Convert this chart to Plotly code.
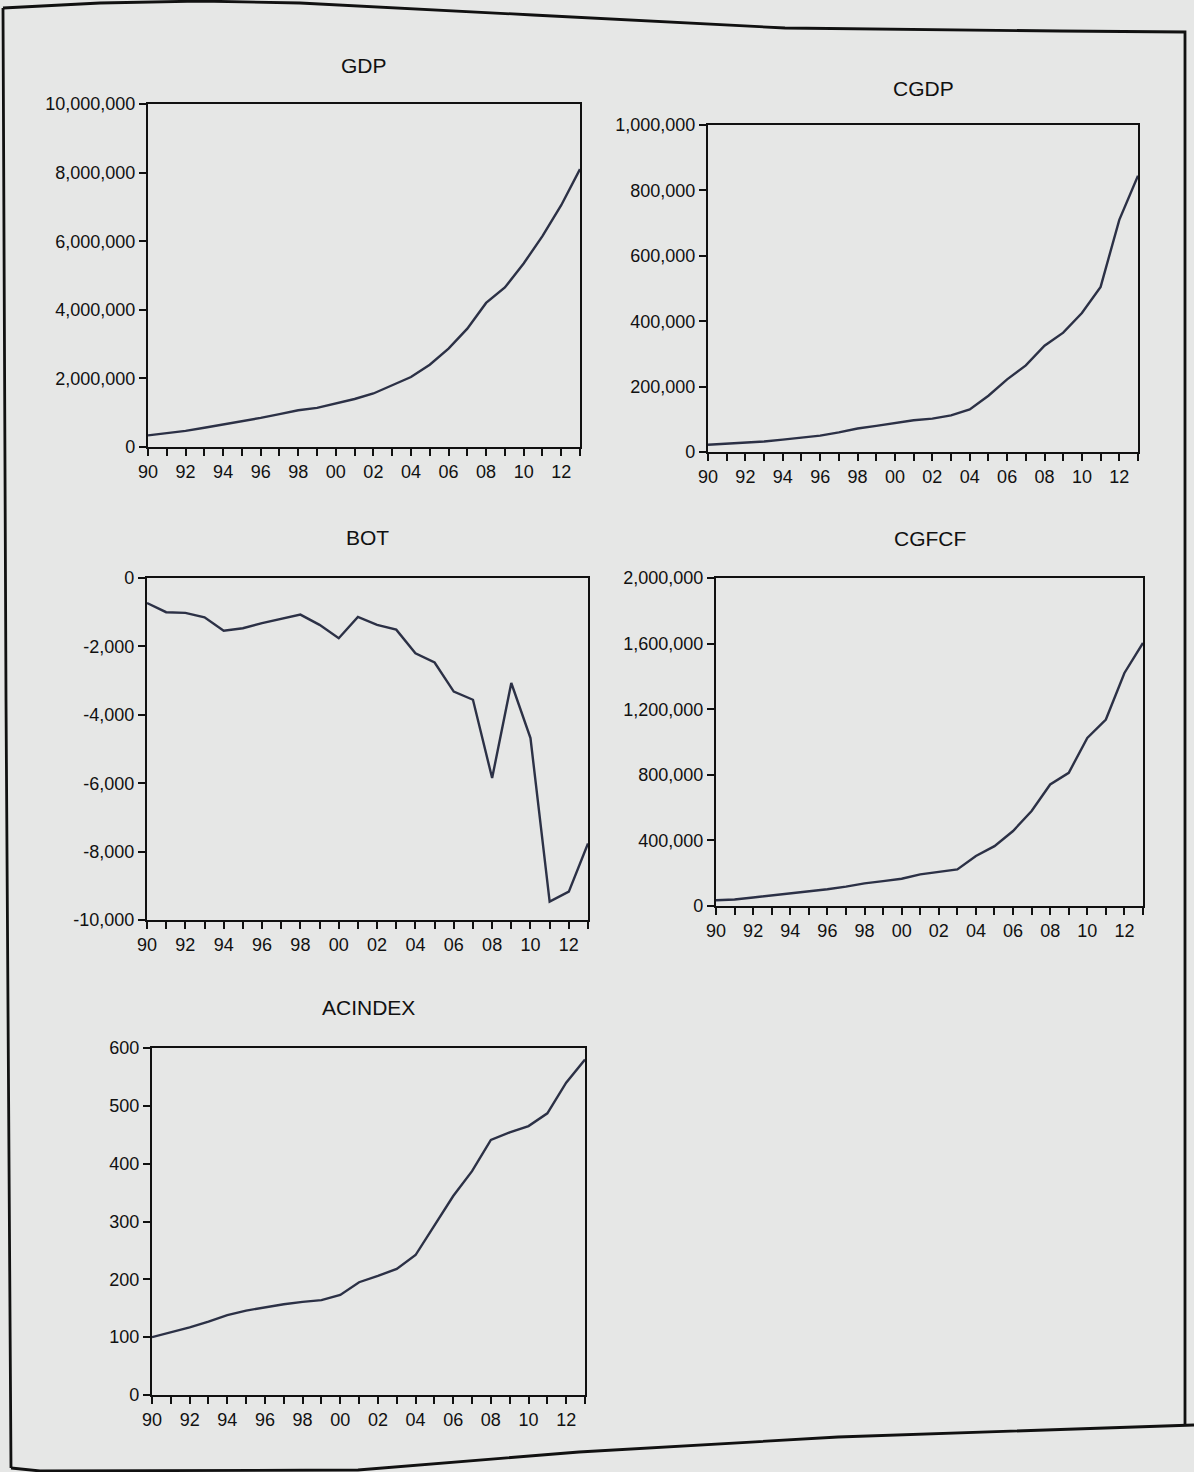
import plotly.graph_objects as go

W, H = 1194, 1472

years = list(range(1990, 2014))

gdp = [340000, 400000, 470000, 560000, 650000, 740000, 850000, 960000, 1070000, 1140000,
       1260000, 1400000, 1560000, 1800000, 2040000, 2400000, 2870000, 3450000, 4200000,
       4650000, 5350000, 6150000, 7050000, 8100000]
cgdp = [22000, 25000, 28000, 32000, 38000, 44000, 50000, 60000, 72000, 80000, 88000, 97000,
        102000, 112000, 130000, 172000, 222000, 265000, 325000, 365000, 425000, 505000,
        710000, 845000]
bot = [-730, -1000, -1020, -1150, -1540, -1470, -1320, -1200, -1070, -1370, -1760, -1140,
       -1370, -1510, -2200, -2470, -3320, -3560, -5850, -3070, -4680, -9460, -9170, -7760]
cgfcf = [35000, 40000, 52000, 65000, 75000, 87000, 102000, 118000, 138000, 152000, 166000,
         193000, 209000, 223000, 305000, 365000, 457000, 579000, 741000, 812000, 1025000,
         1137000, 1421000, 1604000]
acindex = [100, 108, 117, 127, 138, 146, 152, 157, 161, 164, 173, 195, 206, 218, 242, 294,
           344, 387, 441, 454, 465, 487, 540, 580]

titles = ["GDP", "CGDP", "BOT", "CGFCF", "ACINDEX"]
series = [gdp, cgdp, bot, cgfcf, acindex]

ytick_vals = [
    [0, 2000000, 4000000, 6000000, 8000000, 10000000],
    [0, 200000, 400000, 600000, 800000, 1000000],
    [0, -2000, -4000, -6000, -8000, -10000],
    [0, 400000, 800000, 1200000, 1600000, 2000000],
    [0, 100, 200, 300, 400, 500, 600],
]
ytick_text = [
    ["0", "2,000,000", "4,000,000", "6,000,000", "8,000,000", "10,000,000"],
    ["0", "200,000", "400,000", "600,000", "800,000", "1,000,000"],
    ["0", "-2,000", "-4,000", "-6,000", "-8,000", "-10,000"],
    ["0", "400,000", "800,000", "1,200,000", "1,600,000", "2,000,000"],
    ["0", "100", "200", "300", "400", "500", "600"],
]
y_ranges = [[0, 10000000], [0, 1000000], [-10000, 0], [0, 2000000], [0, 600]]
xtick_text = [f"{y % 100:02d}" if y % 2 == 0 else "" for y in years]

# panel boxes in pixels: left, right, top, bottom ; title y
boxes = [
    (148, 580, 104, 447, 65),
    (708, 1138, 125, 452, 88),
    (147, 588, 578, 920, 537),
    (716, 1143, 578, 906, 538),
    (152, 585, 1048, 1395, 1007),
]

def px(x):
    return x / W

def py(y):
    return 1 - y / H

BG = "#e6e7e6"
INK = "#111111"
LINE = "#2c3146"
FONT = "Liberation Sans, Arial, sans-serif"

fig = go.Figure()
layout = dict(
    width=W, height=H, autosize=False,
    margin=dict(l=0, r=0, t=0, b=0, pad=0),
    paper_bgcolor=BG, plot_bgcolor=BG,
    showlegend=False,
    font=dict(family=FONT, color=INK, size=16),
    annotations=[], shapes=[],
)

for i, (name, vals) in enumerate(zip(titles, series)):
    n = "" if i == 0 else str(i + 1)
    l, r, t, b, ty = boxes[i]
    fig.add_trace(go.Scatter(x=years, y=vals, mode="lines",
                             line=dict(color=LINE, width=2.4),
                             xaxis="x" + n, yaxis="y" + n, name=name))
    layout["xaxis" + n] = dict(
        domain=[px(l), px(r)], anchor="y" + n, range=[1990, 2013],
        tickvals=years, ticktext=xtick_text, ticks="outside", ticklen=7,
        tickwidth=1.8, tickcolor=INK, showline=True, linecolor=INK, linewidth=2.2,
        mirror=True, showgrid=False, zeroline=False, automargin=False,
        tickfont=dict(family=FONT, size=18, color=INK),
    )
    layout["yaxis" + n] = dict(
        domain=[py(b), py(t)], anchor="x" + n, range=y_ranges[i],
        tickvals=ytick_vals[i], ticktext=ytick_text[i], ticks="outside",
        ticklen=7, tickwidth=1.8, tickcolor=INK, showline=True, linecolor=INK,
        linewidth=2.2, mirror=True, showgrid=False, zeroline=False, automargin=False,
        tickfont=dict(family=FONT, size=18, color=INK),
    )
    layout["annotations"].append(dict(
        text=name, x=px((l + r) / 2), y=py(ty), xref="paper", yref="paper",
        showarrow=False, font=dict(family=FONT, size=21, color=INK),
        xanchor="center", yanchor="middle"))

# scanned page frame
def path(points):
    return "M " + " L ".join(f"{px(x):.5f},{py(y):.5f}" for x, y in points)

frame_paths = [
    [(3, 8), (100, 3), (200, 1), (300, 3), (533, 15), (785, 28), (1060, 31), (1185, 32),
     (1185, 1425)],
    [(3, 8), (6, 700), (11, 1468)],
    [(11, 1468), (40, 1471), (358, 1470), (579, 1452), (838, 1437), (1194, 1425)],
]
for pts in frame_paths:
    layout["shapes"].append(dict(type="path", xref="paper", yref="paper",
                                 path=path(pts), line=dict(color=INK, width=2.8)))

fig.update_layout(**layout)
fig.write_html(
    "out.html",
    config={"responsive": False, "displayModeBar": False},
    post_script="document.body.style.margin='0';document.body.style.overflow='hidden';",
)
